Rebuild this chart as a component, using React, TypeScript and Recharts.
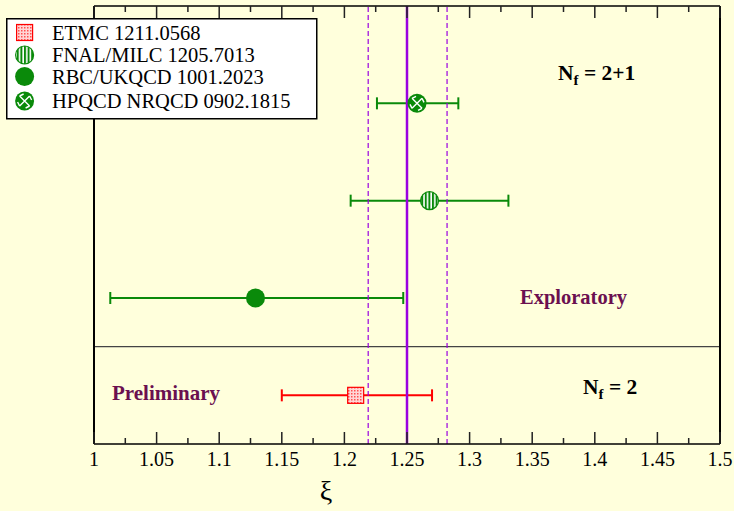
import React from 'react';
import {
  ScatterChart,
  Scatter,
  XAxis,
  YAxis,
  ErrorBar,
  ReferenceLine,
  Legend,
} from 'recharts';

// values
const seriesNames = [
  'ETMC 1211.0568',
  'FNAL/MILC 1205.7013',
  'RBC/UKQCD 1001.2023',
  'HPQCD NRQCD 0902.1815',
];
const xiCentral = [1.209, 1.268, 1.129, 1.258];
const xiLow = [1.15, 1.205, 1.013, 1.226];
const xiHigh = [1.27, 1.331, 1.247, 1.291];
const rowPos = [0.5, 2.5, 1.5, 3.5];

const averageXi = 1.25;
const averageBand = [1.219, 1.282];
const nfSeparator = 1;

const xTicks = [
  1, 1.025, 1.05, 1.075, 1.1, 1.125, 1.15, 1.175, 1.2, 1.225, 1.25, 1.275, 1.3,
  1.325, 1.35, 1.375, 1.4, 1.425, 1.45, 1.475, 1.5,
];
const majorTickLabels = [
  '1', '1.05', '1.1', '1.15', '1.2', '1.25', '1.3', '1.35', '1.4', '1.45', '1.5',
];

const Y_MAX = 4.5;

const BG = '#ffffdc';
const GREEN = '#0a8a0a';
const RED = '#ff0000';
const PURPLE = '#9a00e0';
const MAROON = '#6b1050';
const SERIF = '"Liberation Serif", "Times New Roman", serif';

const seriesData = seriesNames.map((name, i) => [
  {
    x: xiCentral[i],
    y: rowPos[i],
    err: [xiCentral[i] - xiLow[i], xiHigh[i] - xiCentral[i]],
    name,
  },
]);

const isMajor = (v: number) => majorTickLabels.some((l) => Math.abs(Number(l) - v) < 1e-6);

// inward frame ticks on the bottom and top edges, placed through the chart scales
const frameTickData = xTicks.flatMap((v) => [
  { x: v, y: 0, up: true, major: isMajor(v) },
  { x: v, y: Y_MAX, up: false, major: isMajor(v) },
]);

function FrameTickMark(props: any) {
  const { cx, cy } = props;
  const entry = props.payload || props;
  const len = entry.major ? 12 : 6;
  const top = entry.up ? cy - len : cy;
  return <rect x={cx - 0.75} y={top} width={1.5} height={len} fill="#222" />;
}

function PatternDefs() {
  return (
    <defs>
      <pattern id="etmcPat" width="3" height="3" patternUnits="userSpaceOnUse">
        <rect width="3" height="3" fill="#ffd6d6" />
        <rect width="1.5" height="1.5" fill="#ff5050" />
      </pattern>
      <pattern id="fnalPat" width="3.6" height="4" patternUnits="userSpaceOnUse">
        <rect width="3.6" height="4" fill="#ffffff" />
        <rect width="2" height="4" fill={GREEN} />
      </pattern>
    </defs>
  );
}

function EtmcMark({ cx, cy }: any) {
  return (
    <g>
      <PatternDefs />
      <rect x={cx - 8} y={cy - 8} width={16} height={16} fill="url(#etmcPat)" stroke={RED} strokeWidth={1.2} />
    </g>
  );
}

function FnalMark({ cx, cy }: any) {
  return (
    <g>
      <PatternDefs />
      <circle cx={cx} cy={cy} r={9} fill="url(#fnalPat)" stroke={GREEN} strokeWidth={1.2} />
    </g>
  );
}

function RbcMark({ cx, cy }: any) {
  return <circle cx={cx} cy={cy} r={9.5} fill={GREEN} />;
}

function HpqcdMark({ cx, cy }: any) {
  return (
    <g>
      <circle cx={cx} cy={cy} r={9.5} fill={GREEN} />
      <path
        d={`M${cx - 5},${cy - 5} L${cx + 5},${cy + 5} M${cx - 5},${cy + 5} L${cx + 5},${cy - 5}
            M${cx - 5},${cy - 5} L${cx - 1},${cy - 7} M${cx + 5},${cy + 5} L${cx + 1},${cy + 7}
            M${cx - 5},${cy + 5} L${cx - 7},${cy + 1} M${cx + 5},${cy - 5} L${cx + 7},${cy - 1}`}
        stroke="#ffffff"
        strokeWidth={1.4}
        fill="none"
      />
    </g>
  );
}

const marks = [EtmcMark, FnalMark, RbcMark, HpqcdMark];
const barColors = [RED, GREEN, GREEN, GREEN];

function TickLabel({ x, y, payload }: any) {
  const idx = majorTickLabels.findIndex((l) => Math.abs(Number(l) - payload.value) < 1e-6);
  if (idx < 0) return <g />;
  return (
    <text x={x} y={y + 22} textAnchor="middle" fontSize={20} fontFamily={SERIF} fill="#000">
      {majorTickLabels[idx]}
    </text>
  );
}

const legendBaselines = [40.5, 63, 84.5, 109];

function LegendBox() {
  return (
    <svg width={312} height={102} style={{ display: 'block' }}>
      <PatternDefs />
      <rect x={0.75} y={0.75} width={310} height={100} fill="#ffffff" stroke="#000" strokeWidth={1.5} />
      {seriesNames.map((name, i) => {
        const Mark = marks[i];
        const base = legendBaselines[i] - 19;
        return (
          <g key={name}>
            <Mark cx={18.6} cy={base - 7} />
            <text x={46} y={base} fontSize={20.5} fontFamily={SERIF} fill="#000">
              {name}
            </text>
          </g>
        );
      })}
    </svg>
  );
}

export default function App() {
  return (
    <div style={{ position: 'absolute', left: 0, top: 0, width: 734, height: 511, background: BG }}>
      <ScatterChart width={734} height={511} margin={{ top: 5, right: 13, bottom: 37, left: 93 }}>
        <XAxis
          type="number"
          dataKey="x"
          domain={[1, 1.5]}
          ticks={xTicks}
          interval={0}
          height={30}
          tickSize={0}
          tickMargin={0}
          tickLine={false}
          tick={<TickLabel />}
          axisLine={{ stroke: '#000', strokeWidth: 1.5 }}
        />
        <XAxis
          xAxisId="top"
          orientation="top"
          type="number"
          domain={[1, 1.5]}
          height={1}
          tick={false}
          tickLine={false}
          axisLine={{ stroke: '#000', strokeWidth: 1.5 }}
        />
        <YAxis
          type="number"
          dataKey="y"
          domain={[0, Y_MAX]}
          width={1}
          tick={false}
          tickLine={false}
          axisLine={{ stroke: '#000', strokeWidth: 2 }}
        />
        <YAxis
          yAxisId="right"
          orientation="right"
          type="number"
          domain={[0, Y_MAX]}
          width={1}
          tick={false}
          tickLine={false}
          axisLine={{ stroke: '#000', strokeWidth: 2 }}
        />
        <Scatter
          name="frame ticks"
          data={frameTickData}
          shape={FrameTickMark}
          legendType="none"
          isAnimationActive={false}
        />
        <ReferenceLine y={nfSeparator} stroke="#444" strokeWidth={1.3} />
        {seriesData.map((d, i) => (
          <Scatter
            key={seriesNames[i]}
            name={seriesNames[i]}
            data={d}
            shape={marks[i]}
            isAnimationActive={false}
          >
            <ErrorBar
              dataKey="err"
              direction="x"
              width={6}
              stroke={barColors[i]}
              strokeWidth={2}
              isAnimationActive={false}
            />
          </Scatter>
        ))}
        <ReferenceLine x={averageXi} stroke={PURPLE} strokeWidth={2.5} />
        <ReferenceLine x={averageBand[0]} stroke={PURPLE} strokeWidth={1.2} strokeDasharray="5 3" />
        <ReferenceLine x={averageBand[1]} stroke={PURPLE} strokeWidth={1.2} strokeDasharray="5 3" />
        <Legend
          layout="vertical"
          align="center"
          verticalAlign="middle"
          content={() => <LegendBox />}
          wrapperStyle={{ left: 6, top: 18, width: 312, height: 102 }}
        />
      </ScatterChart>
      <svg
        width={734}
        height={511}
        style={{ position: 'absolute', left: 0, top: 0, pointerEvents: 'none' }}
      >
        <text x={558} y={80} fontSize={21.5} fontWeight="bold" fontFamily={SERIF} fill="#000">
          N
          <tspan fontSize={15} dy={5}>f</tspan>
          <tspan dy={-5}> = 2+1</tspan>
        </text>
        <text x={583} y={394} fontSize={21.5} fontWeight="bold" fontFamily={SERIF} fill="#000">
          N
          <tspan fontSize={15} dy={5}>f</tspan>
          <tspan dy={-5}> = 2</tspan>
        </text>
        <text x={520} y={304} fontSize={20.5} fontWeight="bold" fontFamily={SERIF} fill={MAROON}>
          Exploratory
        </text>
        <text x={112} y={400} fontSize={21} fontWeight="bold" fontFamily={SERIF} fill={MAROON}>
          Preliminary
        </text>
        <text x={326} y={500} textAnchor="middle" fontSize={28} fontFamily={SERIF} fill="#000">
          ξ
        </text>
      </svg>
    </div>
  );
}
